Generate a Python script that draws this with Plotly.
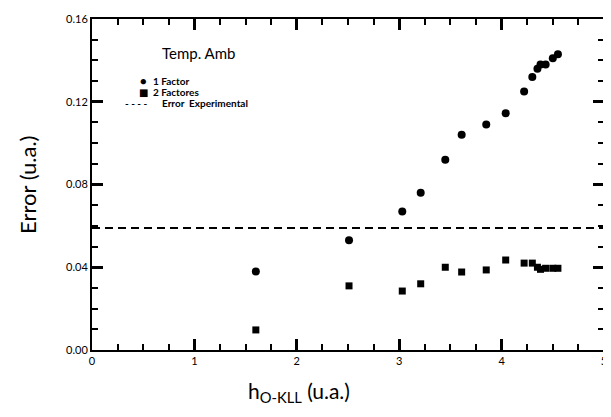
import plotly.graph_objects as go

h_values = [1.60, 2.51, 3.03, 3.21, 3.45, 3.61, 3.85, 4.04, 4.22, 4.30, 4.35, 4.38, 4.43, 4.50, 4.55]
err_1factor = [0.038, 0.053, 0.067, 0.076, 0.092, 0.104, 0.109, 0.1145, 0.125, 0.132, 0.136, 0.138, 0.138, 0.141, 0.143]
err_2factores = [0.0097, 0.031, 0.0285, 0.032, 0.040, 0.0377, 0.0387, 0.0435, 0.042, 0.042, 0.040, 0.039, 0.0395, 0.0395, 0.0395]
error_experimental = 0.059
x_range = [0, 5]
y_range = [0, 0.16]
legend_title = "Temp. Amb"
legend_labels = ["1 Factor", "2 Factores", "Error  Experimental"]

FONT = "Lato, DejaVu Sans, sans-serif"

fig = go.Figure()
fig.add_trace(go.Scatter(
    x=h_values, y=err_1factor, mode="markers", name=legend_labels[0],
    marker=dict(symbol="circle", size=8, color="black"), showlegend=False,
))
fig.add_trace(go.Scatter(
    x=h_values, y=err_2factores, mode="markers", name=legend_labels[1],
    marker=dict(symbol="square", size=7, color="black"), showlegend=False,
))
fig.add_trace(go.Scatter(
    x=x_range, y=[error_experimental, error_experimental], mode="lines",
    name=legend_labels[2], showlegend=False, xaxis="x2", yaxis="y2",
    line=dict(color="black", width=2, dash="8px,5px"),
))

fig.update_layout(
    xaxis=dict(range=x_range, dtick=1, showline=True, linecolor="black", linewidth=2, mirror=True,
               ticks="inside", ticklen=11, tickwidth=2.5, tickcolor="black",
               showgrid=False, zeroline=False,
               minor=dict(dtick=0.25, ticks="inside", ticklen=6, tickwidth=2, tickcolor="black"),
               tickfont=dict(family=FONT, size=11, color="black")),
    yaxis=dict(range=y_range, dtick=0.04, tickformat=".2f",
               showline=True, linecolor="black", linewidth=2, mirror=True,
               ticks="inside", ticklen=11, tickwidth=2.5, tickcolor="black",
               showgrid=False, zeroline=False,
               minor=dict(dtick=0.01, ticks="inside", ticklen=6, tickwidth=2, tickcolor="black"),
               tickfont=dict(family=FONT, size=11, color="black")),
    xaxis2=dict(range=x_range, dtick=1, overlaying="x", side="top", anchor="y",
                showticklabels=False, showline=False, showgrid=False, zeroline=False,
                ticks="inside", ticklen=11, tickwidth=2.5, tickcolor="black",
                minor=dict(dtick=0.25, ticks="inside", ticklen=6, tickwidth=2, tickcolor="black")),
    yaxis2=dict(range=y_range, dtick=0.04, overlaying="y", side="right", anchor="x",
                showticklabels=False, showline=False, showgrid=False, zeroline=False,
                ticks="inside", ticklen=11, tickwidth=2.5, tickcolor="black",
                minor=dict(dtick=0.01, ticks="inside", ticklen=6, tickwidth=2, tickcolor="black")),
)

ann = []
ann.append(dict(text="h<sub>O-KLL</sub> (u.a.)", xref="paper", yref="paper", x=0.404, y=-0.128,
                xanchor="center", yanchor="middle", showarrow=False,
                font=dict(family=FONT, size=21, color="black")))
ann.append(dict(text="Error (u.a.)", xref="paper", yref="paper", x=-0.126, y=0.5,
                xanchor="center", yanchor="middle", textangle=-90, showarrow=False,
                font=dict(family=FONT, size=22, color="black")))
ann.append(dict(text=legend_title, xref="paper", yref="paper", x=0.132, y=0.897,
                xanchor="left", yanchor="middle", showarrow=False,
                font=dict(family=FONT, size=15, color="black")))
legend_rows = [0.813, 0.779, 0.746]
legend_symbols = ["●", "■", "<b>- - - -</b>"]
symbol_x = [0.101, 0.101, 0.060]
text_x = [0.115, 0.115, 0.132]
symbol_sizes = [11, 10, 10]
for i in range(3):
    ann.append(dict(text=legend_symbols[i], xref="paper", yref="paper", x=symbol_x[i], y=legend_rows[i],
                    xanchor="center" if i < 2 else "left", yanchor="middle", showarrow=False,
                    font=dict(family=FONT, size=symbol_sizes[i], color="black")))
    ann.append(dict(text="<b>" + legend_labels[i] + "</b>", xref="paper", yref="paper", x=text_x[i], y=legend_rows[i],
                    xanchor="left", yanchor="middle", showarrow=False,
                    font=dict(family=FONT, size=10, color="black")))

fig.update_layout(
    width=603, height=409,
    margin=dict(l=84, r=4, t=11, b=67),
    paper_bgcolor="white", plot_bgcolor="white",
    showlegend=False,
    annotations=ann,
)

fig.write_html("out.html")
